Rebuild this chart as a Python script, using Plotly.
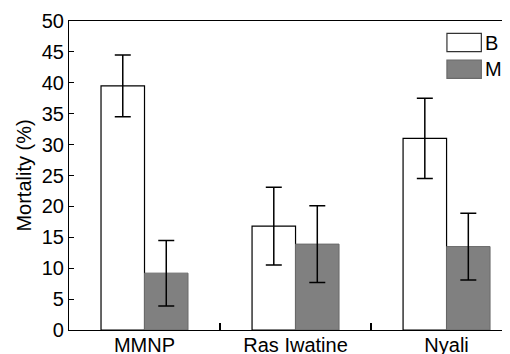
import plotly.graph_objects as go

categories = ["MMNP", "Ras Iwatine", "Nyali"]
series_names = ["B", "M"]
b_values = [39.5, 16.8, 31.0]
b_errors = [5.0, 6.3, 6.5]
m_values = [9.2, 13.9, 13.5]
m_errors = [5.3, 6.2, 5.4]
y_ticks = [0, 5, 10, 15, 20, 25, 30, 35, 40, 45, 50]

FONT = "Liberation Sans, Arial, sans-serif"

fig = go.Figure()
fig.add_trace(go.Bar(
    x=categories, y=b_values, name=series_names[0],
    marker=dict(color="white", line=dict(color="black", width=1.2)),
    error_y=dict(type="data", array=b_errors, visible=True,
                 color="black", thickness=1.5, width=8),
    showlegend=False,
))
fig.add_trace(go.Bar(
    x=categories, y=m_values, name=series_names[1],
    marker=dict(color="#808080", line=dict(color="#6a6a6a", width=1)),
    error_y=dict(type="data", array=m_errors, visible=True,
                 color="black", thickness=1.5, width=8),
    showlegend=False,
))

# legend drawn manually (large swatches), kept inside the visible area
legend_items = [
    (series_names[0], "white", "#333333", 0.9006, 0.960, 0.9304),
    (series_names[1], "#808080", "#6a6a6a", 0.8146, 0.8738, 0.8440),
]
for name, fill, line, y0, y1, yc in legend_items:
    fig.add_shape(type="rect", xref="paper", yref="paper",
                  x0=0.857, x1=0.935, y0=y0, y1=y1,
                  fillcolor=fill, line=dict(color=line, width=1.2))
    fig.add_annotation(xref="paper", yref="paper", x=0.941, y=yc,
                       text=name, showarrow=False, xanchor="left",
                       yanchor="middle", borderpad=0,
                       font=dict(size=20, color="black", family=FONT))

# the page body adds an 8px offset, so margins are compensated
fig.update_layout(
    width=510, height=354,
    margin=dict(l=61, r=8, t=13, b=32),
    paper_bgcolor="white", plot_bgcolor="white",
    barmode="group", bargap=0.424, bargroupgap=0,
    font=dict(family=FONT, size=20, color="black"),
    xaxis=dict(
        type="category", range=[-0.5, 2.42], automargin=False,
        showline=True, linecolor="black", linewidth=1.2, mirror=True,
        ticks="inside", tickson="boundaries", ticklen=7, tickwidth=1.5, tickcolor="black",
        showgrid=False, tickfont=dict(size=20), ticklabelstandoff=-3,
    ),
    yaxis=dict(
        range=[0, 50], tickvals=y_ticks, automargin=False,
        showline=True, linecolor="black", linewidth=1.2,
        ticks="inside", ticklen=5, tickwidth=1, tickcolor="black",
        showgrid=False, zeroline=False, tickfont=dict(size=20),
        title=dict(text="Mortality (%)", font=dict(size=20), standoff=4),
    ),
)

fig.write_html("out.html")
